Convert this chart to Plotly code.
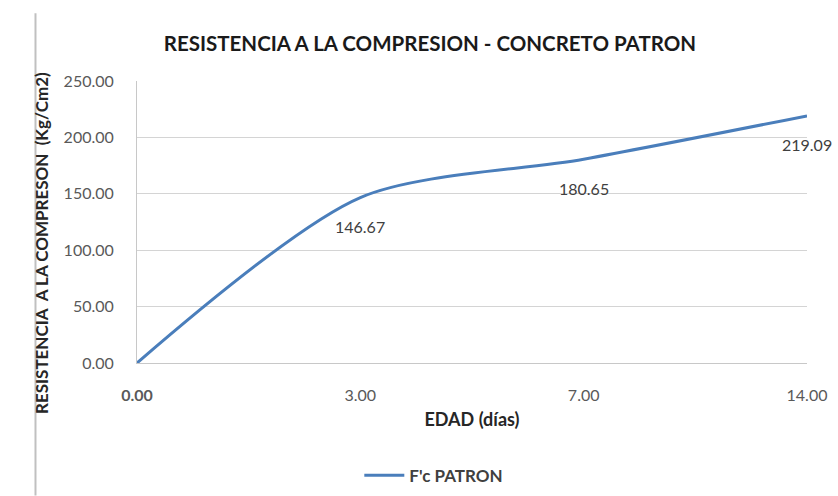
import plotly.graph_objects as go

# Compressive strength of the reference concrete by curing age
edad_labels = ["0.00", "3.00", "7.00", "14.00"]
resistencia = [0.00, 146.67, 180.65, 219.09]
valor_labels = ["0.00", "146.67", "180.65", "219.09"]
y_ticks = [0, 50, 100, 150, 200, 250]
y_tick_text = ["0.00", "50.00", "100.00", "150.00", "200.00", "250.00"]

FONT = "Lato, 'Open Sans', sans-serif"
LINE_BLUE = "#4a7ebb"

fig = go.Figure()
fig.add_trace(go.Scatter(
    x=edad_labels,
    y=resistencia,
    mode="lines",
    name="<b>F'c PATRON</b>",
    line=dict(color=LINE_BLUE, width=3, shape="spline", smoothing=0.8),
    cliponaxis=False,
))

# value labels under each point (category axis -> position by index);
# the label of the origin point coincides with the first axis label,
# so that one is drawn darker in the tick text instead
x_tick_text = list(edad_labels)
for i, (yv, txt) in enumerate(zip(resistencia, valor_labels)):
    if i == 0:
        x_tick_text[0] = "<b>" + txt + "</b>"
        continue
    fig.add_annotation(
        x=i, y=yv, text=txt, showarrow=False, yshift=-29,
        font=dict(family=FONT, size=16, color="#404040"),
    )

# y axis title placed as rotated text
fig.add_annotation(
    xref="paper", yref="paper", x=-0.1435, y=0.425,
    text="<b>RESISTENCIA  A LA COMPRESON  (Kg/Cm2)</b>", textangle=-90,
    showarrow=False, xanchor="center", yanchor="middle",
    font=dict(family=FONT, size=17, color="#262626"),
)

fig.update_layout(
    width=838, height=496,
    margin=dict(l=137, r=31, t=81, b=133, autoexpand=False),
    paper_bgcolor="white",
    plot_bgcolor="white",
    title=dict(
        text="<b>RESISTENCIA A LA COMPRESION - CONCRETO PATRON</b>",
        x=0.513, xanchor="center", y=0.911, yanchor="middle",
        font=dict(family=FONT, size=20.5, color="#1a1a1a"),
    ),
    xaxis=dict(
        type="category",
        range=[0, 3],
        tickvals=edad_labels, ticktext=x_tick_text,
        showgrid=False,
        showline=True, linecolor="#c8c8c8", linewidth=1,
        ticks="", ticklabelstandoff=18,
        tickfont=dict(family=FONT, size=16, color="#595959"),
        title=dict(text="<b>EDAD (días)</b>", standoff=10,
                   font=dict(family=FONT, size=18, color="#262626")),
        zeroline=False,
        automargin=False,
    ),
    yaxis=dict(
        range=[0, 250],
        tickvals=y_ticks, ticktext=y_tick_text,
        showgrid=True, gridcolor="#d4d4d4", gridwidth=1.2,
        showline=True, linecolor="#c8c8c8", linewidth=1,
        ticks="", ticklabelstandoff=19,
        tickfont=dict(family=FONT, size=16, color="#595959"),
        zeroline=False,
        automargin=False,
    ),
    showlegend=True,
    legend=dict(
        orientation="h", x=0.443, xanchor="center", y=-0.40, yanchor="middle",
        font=dict(family=FONT, size=17, color="#404040"),
        itemwidth=40,
    ),
)

# outer chart frame edge on the left
fig.add_shape(type="line", xref="paper", yref="paper",
              x0=-0.1515, x1=-0.1515, y0=-0.47, y1=1.24,
              line=dict(color="#c0c0c0", width=2))

fig.write_html("out.html")
